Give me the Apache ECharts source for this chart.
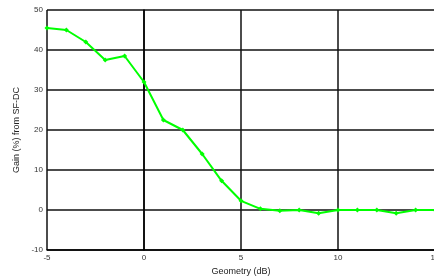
<!DOCTYPE html>
<html>
<head>
<meta charset="utf-8">
<script src="https://cdn.jsdelivr.net/npm/echarts@6/dist/echarts.min.js"></script>
<style>
  html, body { margin: 0; padding: 0; background: #fff; }
  #chart { width: 434px; height: 279px; }
</style>
</head>
<body>
<div id="chart"></div>
<script>
  // geometry values (dB) and gain (%)
  const geometry = [-5, -4, -3, -2, -1, 0, 1, 2, 3, 4, 5, 6, 7, 8, 9, 10, 11, 12, 13, 14, 15]
  const gain = [45.5, 45, 42, 37.5, 38.5, 32, 22.5, 20, 14, 7.3, 2.3, 0.3, -0.2, 0, -0.8, 0, 0, 0, -0.8, 0, 0]

  const chart = echarts.init(document.getElementById('chart'))
  const font = 'Liberation Sans, Arial, sans-serif'

  chart.setOption({
    animation: false,
    // plot box goes right to the edge, the "15" label gets cut like in the picture
    grid: { left: 47, right: -1, top: 10, bottom: 29, outerBoundsMode: 'none' },
    xAxis: {
      type: 'value',
      min: -5, max: 15, interval: 5,
      name: 'Geometry (dB)',
      nameLocation: 'middle',
      nameGap: 14,
      nameTextStyle: { fontFamily: font, fontSize: 9, color: '#222' },
      axisLine: { show: true, onZero: false, lineStyle: { color: '#000', width: 1.5 } },
      axisTick: { show: false },
      axisLabel: { fontFamily: font, fontSize: 8, color: '#333', margin: 4, showMaxLabel: true },
      splitLine: { show: true, lineStyle: { color: '#111', width: 1.5 } }
    },
    yAxis: {
      type: 'value',
      min: -10, max: 50, interval: 10,
      name: 'Gain (%) from SF-DC',
      nameLocation: 'middle',
      nameGap: 24,
      nameTextStyle: { fontFamily: font, fontSize: 9, color: '#222' },
      axisLine: { show: true, lineStyle: { color: '#000', width: 1.5 } },
      axisTick: { show: false },
      axisLabel: { fontFamily: font, fontSize: 8, color: '#333', margin: 4 },
      splitLine: { show: true, lineStyle: { color: '#111', width: 1.5 } }
    },
    series: [{
      type: 'line',
      data: geometry.map((g, i) => [g, gain[i]]),
      smooth: false,
      symbol: 'diamond',
      symbolSize: 5,
      itemStyle: { color: '#00ff00' },
      lineStyle: { color: '#00ff00', width: 2 }
    }]
  })
</script>
</body>
</html>
